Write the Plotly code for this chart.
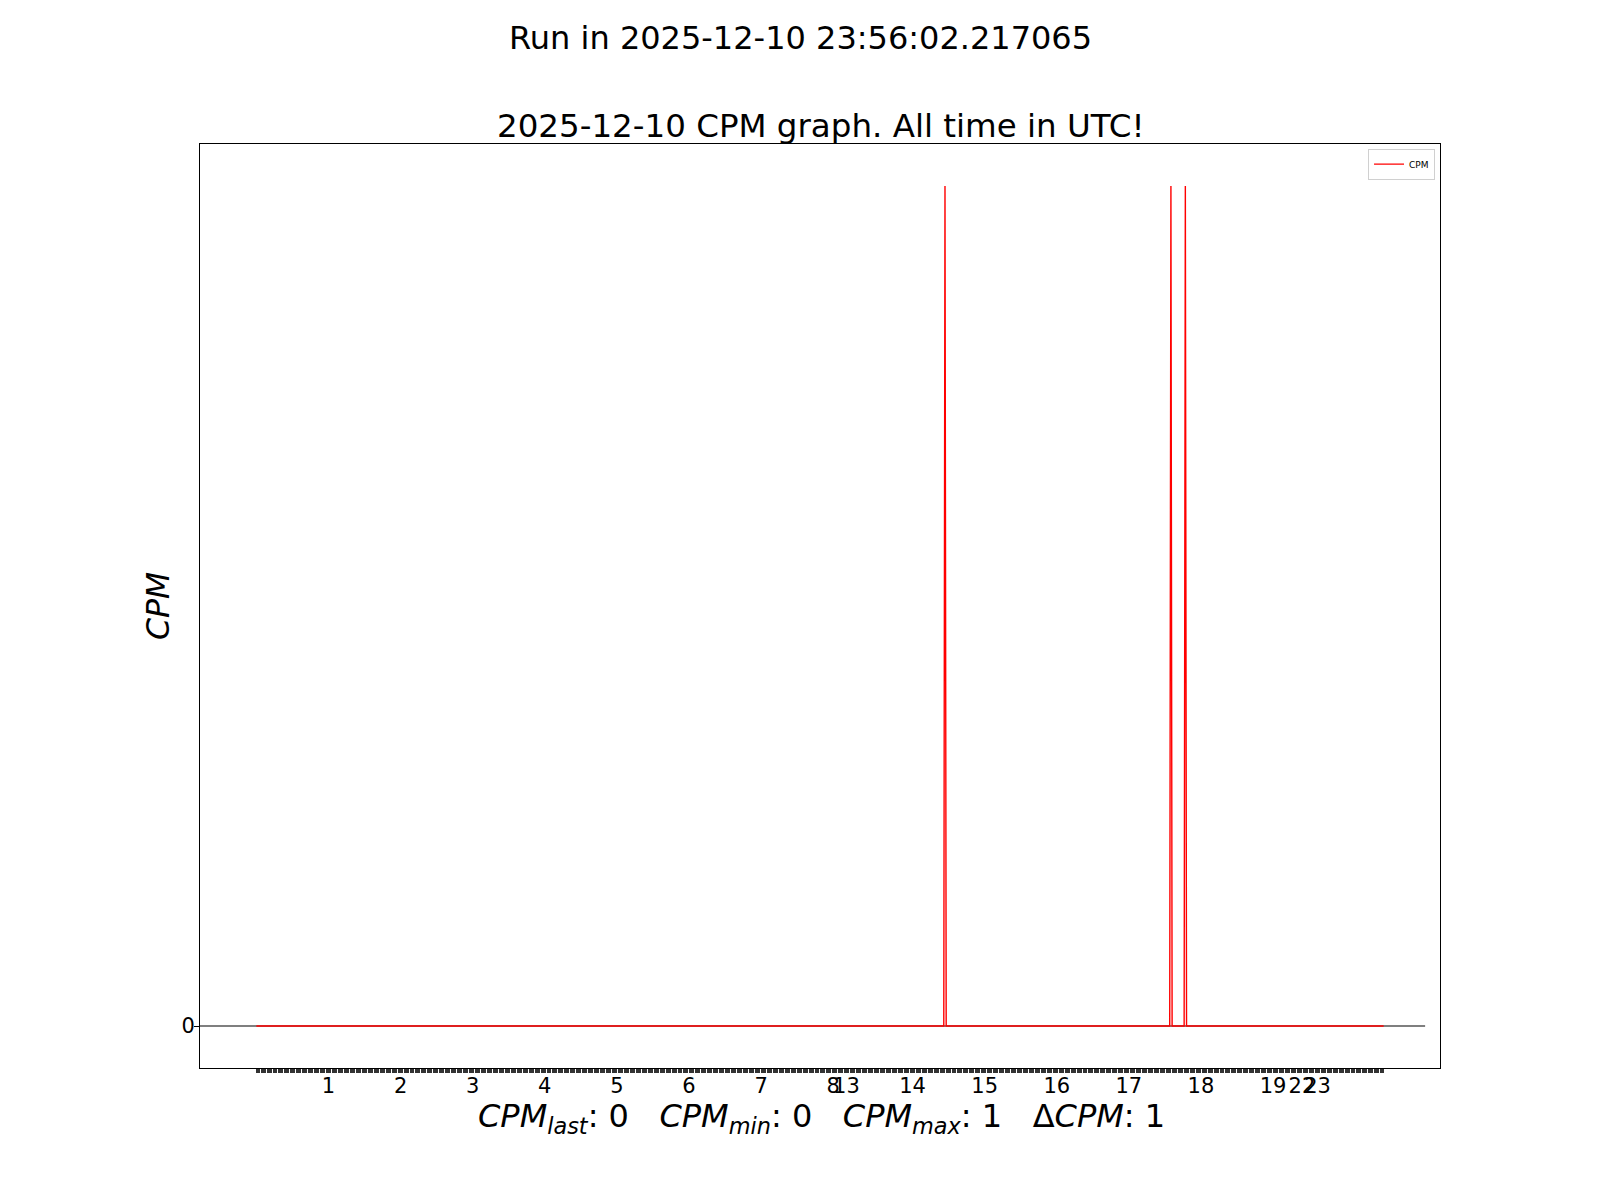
import plotly.graph_objects as go

# ---- data ----
# per-minute samples: hour, first minute recorded, number of samples in that hour
seg_hours = [0, 1, 2, 3, 4, 5, 6, 7, 8, 13, 14, 15, 16, 17, 18, 19, 22, 23]
seg_start_minute = [0, 0, 0, 0, 0, 0, 0, 0, 0, 5, 0, 0, 0, 0, 0, 0, 47, 0]
seg_counts = [60, 60, 60, 60, 60, 60, 60, 60, 11, 55, 60, 60, 60, 60, 60, 24, 13, 56]
# non-zero CPM readings (HH:MM -> CPM); all other minutes read 0
spike_times = ["14:27", "17:35", "17:47"]
spike_values = [1, 1, 1]

title_top = "Run in 2025-12-10 23:56:02.217065"
title_axes = "2025-12-10 CPM graph. All time in UTC!"
cpm_last, cpm_min, cpm_max, cpm_delta = 0, 0, 1, 1

# ---- build series ----
times = []
for h, m0, n in zip(seg_hours, seg_start_minute, seg_counts):
    for k in range(n):
        times.append(f"{h:02d}:{m0 + k:02d}")
spikes = dict(zip(spike_times, spike_values))
cpm = [spikes.get(t, 0) for t in times]
idx = list(range(len(times)))

tickvals = idx
ticktext = []
prev_h = None
for i, t in enumerate(times):
    h = int(t[:2])
    if h != prev_h and i > 0:
        ticktext.append(str(h))
    else:
        ticktext.append("")
    prev_h = h

FONT = "DejaVu Sans"
n = len(idx) - 1
pad = 0.05 * n

fig = go.Figure()
fig.add_trace(go.Scatter(x=idx, y=cpm, mode="lines", name="CPM",
                         line=dict(color="red", width=1.4)))

fig.add_shape(type="line", xref="x domain", yref="y", x0=0, x1=0.988, y0=0, y1=0,
              line=dict(color="black", width=1.2), layer="below")

# page has an 8px body margin; figure sized so plot area lands at 200..1440 x 144..1068
W, H = 1592, 1192
L, R, T, B = 192, 160, 136, 132
PL, PR, PT, PB = 200, 1440, 144, 1068   # plot area in screenshot pixels


def px(xs):
    return (xs - PL) / (PR - PL)


def py(ys):
    return (PB - ys) / (PB - PT)


xlabel = ("<i>CPM</i><sub><i>last</i></sub>: %d\u00a0\u00a0\u00a0"
          "<i>CPM</i><sub><i>min</i></sub>: %d\u00a0\u00a0\u00a0"
          "<i>CPM</i><sub><i>max</i></sub>: %d\u00a0\u00a0\u00a0"
          "\u0394<i>CPM</i>: %d") % (cpm_last, cpm_min, cpm_max, cpm_delta)

fig.update_layout(
    width=W, height=H,
    margin=dict(l=L, r=R, t=T, b=B, autoexpand=False),
    paper_bgcolor="white", plot_bgcolor="white",
    font=dict(family=FONT, color="black"),
    showlegend=True,
    legend=dict(x=0.996, y=0.995, xanchor="right", yanchor="top",
                bgcolor="rgba(255,255,255,0.8)", bordercolor="#d0d0d0", borderwidth=1,
                font=dict(size=9, family=FONT), itemwidth=30,
                tracegroupgap=0),
    xaxis=dict(range=[-pad, n + pad], showgrid=False, zeroline=False,
               showline=True, linecolor="black", linewidth=1, mirror=True,
               tickmode="array", tickvals=tickvals, ticktext=ticktext,
               ticks="outside", ticklen=4, tickwidth=1, tickcolor="#333",
               ticklabelstandoff=-5,
               tickangle=0, tickfont=dict(size=21, family=FONT)),
    yaxis=dict(range=[-0.05, 1.05], showgrid=False, zeroline=False,
               showline=True, linecolor="black", linewidth=1, mirror=True,
               tickmode="array", tickvals=[0], ticktext=["0"],
               ticks="outside", ticklen=5, tickwidth=1, tickcolor="black",
               ticklabelstandoff=-5,
               tickfont=dict(size=21, family=FONT)),
    annotations=[
        dict(text=title_top, xref="paper", yref="paper", x=px(800), y=py(38),
             xanchor="center", yanchor="middle", showarrow=False,
             font=dict(size=32, family=FONT)),
        dict(text=title_axes, xref="paper", yref="paper", x=0.5, y=py(126),
             xanchor="center", yanchor="middle", showarrow=False,
             font=dict(size=32.5, family=FONT)),
        dict(text="<i>CPM</i>", xref="paper", yref="paper", x=px(158), y=0.5,
             xanchor="center", yanchor="middle", showarrow=False, textangle=-90,
             font=dict(size=31.5, family=FONT)),
        dict(text=xlabel, xref="paper", yref="paper", x=px(821), y=py(1118),
             xanchor="center", yanchor="middle", showarrow=False,
             font=dict(size=32, family=FONT)),
    ],
)

fig.write_html("out.html")
